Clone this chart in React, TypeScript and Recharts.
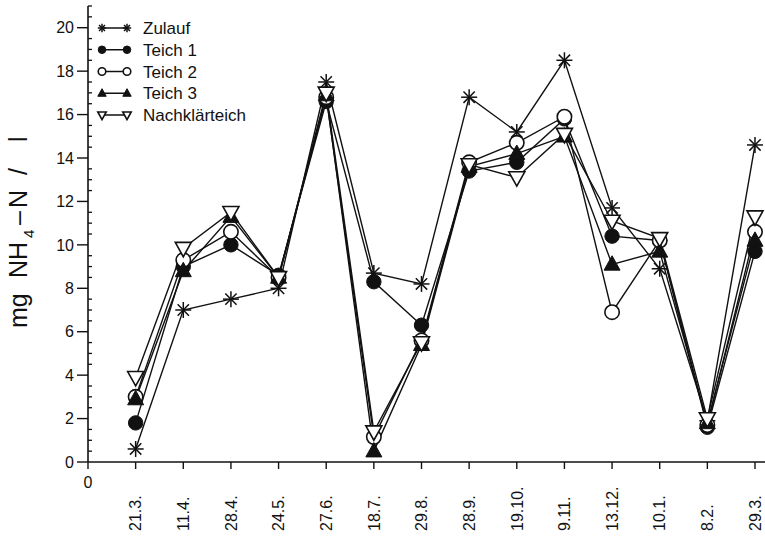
import React from 'react';
import { LineChart, Line, XAxis, YAxis, Legend } from 'recharts';

const categories = ['21.3.', '11.4.', '28.4.', '24.5.', '27.6.', '18.7.', '29.8.', '28.9.', '19.10.', '9.11.', '13.12.', '10.1.', '8.2.', '29.3.'];
const zulauf = [0.6, 7.0, 7.5, 8.0, 17.5, 8.7, 8.2, 16.8, 15.2, 18.5, 11.7, 8.9, 1.9, 14.6];
const teich1 = [1.8, 9.0, 10.0, 8.6, 16.6, 8.3, 6.3, 13.4, 13.8, 15.8, 10.4, 10.2, 1.6, 9.7];
const teich2 = [3.0, 9.3, 10.6, 8.5, 16.8, 1.15, 5.6, 13.8, 14.7, 15.9, 6.9, 10.2, 1.7, 10.6];
const teich3 = [2.9, 8.8, 11.3, 8.5, 16.9, 0.5, 5.4, 13.6, 14.2, 15.0, 9.1, 9.7, 1.8, 10.2];
const nachklaer = [3.9, 9.85, 11.5, 8.5, 17.0, 1.4, 5.5, 13.7, 13.1, 15.1, 11.1, 10.3, 2.0, 11.3];

const xTicks = [0, ...categories.map((_, i) => i + 1)];
const yTicks = Array.from({ length: 43 }, (_, i) => i / 2);

const data = categories.map((c, i) => ({
  x: i + 1,
  label: c,
  zulauf: zulauf[i],
  teich1: teich1[i],
  teich2: teich2[i],
  teich3: teich3[i],
  nachklaer: nachklaer[i],
}));

const FONT = '"Liberation Sans", Arial, Helvetica, sans-serif';
const INK = '#111';

type MarkerKind = 'star' | 'filledCircle' | 'openCircle' | 'filledTri' | 'openTriDown';

function marker(kind: MarkerKind, cx: number, cy: number, s: number, key?: string) {
  switch (kind) {
    case 'star': {
      const d = s * 0.7071;
      return (
        <g key={key} stroke={INK} strokeWidth={1.5}>
          <line x1={cx - s} y1={cy} x2={cx + s} y2={cy} />
          <line x1={cx} y1={cy - s} x2={cx} y2={cy + s} />
          <line x1={cx - d} y1={cy - d} x2={cx + d} y2={cy + d} />
          <line x1={cx - d} y1={cy + d} x2={cx + d} y2={cy - d} />
        </g>
      );
    }
    case 'filledCircle':
      return <circle key={key} cx={cx} cy={cy} r={s * 0.9} fill={INK} stroke={INK} strokeWidth={1} />;
    case 'openCircle':
      return <circle key={key} cx={cx} cy={cy} r={s * 0.9} fill="#fff" stroke={INK} strokeWidth={1.6} />;
    case 'filledTri': {
      const h = s * 1.8;
      return (
        <polygon
          key={key}
          points={`${cx},${cy - h * 0.6} ${cx - s},${cy + h * 0.4} ${cx + s},${cy + h * 0.4}`}
          fill={INK}
          stroke={INK}
          strokeWidth={1}
        />
      );
    }
    case 'openTriDown': {
      const h = s * 1.8;
      return (
        <polygon
          key={key}
          points={`${cx},${cy + h * 0.6} ${cx - s},${cy - h * 0.4} ${cx + s},${cy - h * 0.4}`}
          fill="#fff"
          stroke={INK}
          strokeWidth={1.6}
        />
      );
    }
  }
}

const series: { key: string; name: string; kind: MarkerKind }[] = [
  { key: 'zulauf', name: 'Zulauf', kind: 'star' },
  { key: 'teich1', name: 'Teich 1', kind: 'filledCircle' },
  { key: 'teich2', name: 'Teich 2', kind: 'openCircle' },
  { key: 'teich3', name: 'Teich 3', kind: 'filledTri' },
  { key: 'nachklaer', name: 'Nachklärteich', kind: 'openTriDown' },
];

const YTick = (props: any) => {
  const { x, y, payload } = props;
  const v = payload.value as number;
  const major = Math.abs(v % 2) < 1e-6;
  if (major) {
    return (
      <g>
        <line x1={x - 11} x2={x} y1={y} y2={y} stroke={INK} strokeWidth={1.4} />
        <text x={x - 14} y={y} dy="0.36em" textAnchor="end" fontSize={16} fontFamily={FONT} fill={INK}>
          {v}
        </text>
      </g>
    );
  }
  return <line x1={x} x2={x + 4} y1={y} y2={y} stroke={INK} strokeWidth={1.3} />;
};

const XTick = (props: any) => {
  const { x, y, payload } = props;
  const v = payload.value as number;
  if (v === 0) {
    return (
      <g>
        <line x1={x} x2={x} y1={y} y2={y + 7} stroke={INK} strokeWidth={1.4} />
        <text x={x} y={y + 20} dy="0.36em" textAnchor="middle" fontSize={16} fontFamily={FONT} fill={INK}>
          0
        </text>
      </g>
    );
  }
  const by = 531;
  return (
    <g>
      <line x1={x} x2={x} y1={y} y2={y + 7} stroke={INK} strokeWidth={1.4} />
      <text
        x={x}
        y={by}
        dy="0.36em"
        transform={`rotate(-90 ${x} ${by})`}
        textAnchor="start"
        fontSize={16}
        fontFamily={FONT}
        fill={INK}
      >
        {categories[v - 1]}
      </text>
    </g>
  );
};

// rotated y-axis title; local x runs upward along the page
const YLabel = () => (
  <text transform="rotate(-90 27 232)" y={232} fontSize={25} fontFamily={FONT} fill={INK} textAnchor="start">
    <tspan x={-69}>mg</tspan>
    <tspan x={-19}>NH</tspan>
    <tspan x={21} dy={7} fontSize={15}>4</tspan>
    <tspan x={34} dy={-7}>–</tspan>
    <tspan x={51}>N</tspan>
    <tspan x={84}>/</tspan>
    <tspan x={117}>l</tspan>
  </text>
);

const LegendContent = (props: any) => {
  const payload = (props.payload || []) as any[];
  return (
    <svg width={220} height={112} style={{ display: 'block', overflow: 'visible' }}>
      {series.map((s, i) => {
        const y = 12 + i * 21.75;
        const item = payload.find((p) => p.value === s.name);
        return (
          <g key={s.key}>
            <line x1={6} x2={31} y1={y} y2={y} stroke={INK} strokeWidth={1.5} />
            {marker(s.kind, 6, y, 4.2)}
            {marker(s.kind, 31, y, 4.2)}
            <text x={47} y={y} dy="0.36em" fontSize={17} fontFamily={FONT} fill={INK}>
              {item ? item.value : s.name}
            </text>
          </g>
        );
      })}
    </svg>
  );
};

export default function App() {
  return (
    <div style={{ position: 'absolute', left: 0, top: 0, width: 765, height: 537, background: '#fff' }}>
      <LineChart width={765} height={537} data={data} margin={{ top: 6, right: 0, bottom: 0, left: 0 }}>
        <XAxis
          dataKey="x"
          type="number"
          domain={[0, 14.21]}
          ticks={xTicks}
          interval={0}
          height={75}
          tickLine={false}
          tickSize={0}
          tickMargin={0}
          tick={<XTick />}
          axisLine={{ stroke: INK, strokeWidth: 1.6 }}
          allowDataOverflow
        />
        <YAxis
          type="number"
          domain={[0, 21]}
          ticks={yTicks}
          interval={0}
          width={88}
          tickLine={false}
          tickSize={0}
          tickMargin={0}
          tick={<YTick />}
          axisLine={{ stroke: INK, strokeWidth: 1.6 }}
          label={() => <YLabel />}
          allowDataOverflow
        />
        <Legend
          layout="vertical"
          align="center"
          verticalAlign="middle"
          wrapperStyle={{ position: 'absolute', left: 96, top: 16, width: 220, height: 112 }}
          content={<LegendContent />}
        />
        {series.map((s) => (
          <Line
            key={s.key}
            dataKey={s.key}
            name={s.name}
            stroke={INK}
            strokeWidth={1.4}
            isAnimationActive={false}
            legendType="line"
            dot={(p: any) => marker(s.kind, p.cx, p.cy, 8, `${s.key}-${p.index}`)}
            activeDot={false}
          />
        ))}
      </LineChart>
    </div>
  );
}
